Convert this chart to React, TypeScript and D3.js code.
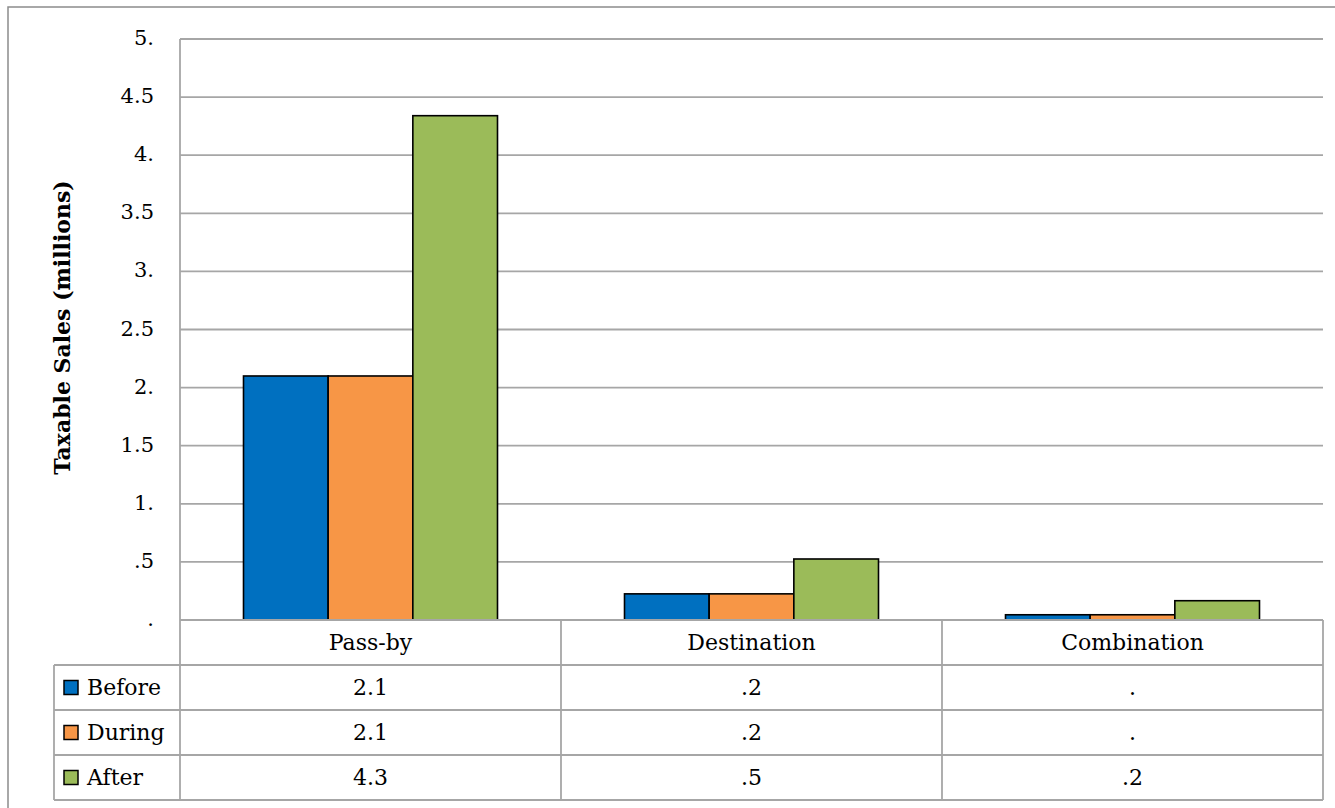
import React from "react";
import * as d3 from "d3";

const categories = ["Pass-by", "Destination", "Combination"];
const seriesNames = ["Before", "During", "After"];
const beforeValues = [2.1, 0.225, 0.045];
const duringValues = [2.1, 0.225, 0.045];
const afterValues = [4.34, 0.525, 0.166];
const seriesColors = ["#0070C0", "#F79646", "#9BBB59"];
const yTicks = [0, 0.5, 1, 1.5, 2, 2.5, 3, 3.5, 4, 4.5, 5];
const yTitle = "Taxable Sales (millions)";

const seriesValues = [beforeValues, duringValues, afterValues];

// Excel-like "#.#" format: 0 -> ".", 0.5 -> ".5", 5 -> "5."
function fmt(v: number): string {
  let s = (Math.round(v * 10) / 10).toFixed(1);
  if (s.endsWith("0")) s = s.slice(0, -1);
  if (s.startsWith("0")) s = s.slice(1);
  return s;
}

const W = 1335;
const H = 808;
const plotLeft = 180;
const plotRight = 1323;
const plotTop = 39;
const plotBottom = 620;
const rowH = 45;
const legendLeft = 54;
const FONT = "'DejaVu Serif', 'Liberation Serif', serif";
const GRID = "#a6a6a6";
const FS = 22;

export default function App() {
  const y = d3.scaleLinear().domain([0, 5]).range([plotBottom, plotTop]);
  const x = d3.scaleBand<string>().domain(categories).range([plotLeft, plotRight]).paddingInner(0).paddingOuter(0);
  const xs = d3.scaleBand<string>().domain(seriesNames).range([0, x.bandwidth()]).paddingInner(0).paddingOuter(0.75);

  const tableBottom = plotBottom + rowH * (seriesNames.length + 1);

  return (
    <svg
      width={W}
      height={H}
      style={{ position: "absolute", left: 0, top: 0, background: "#fff" }}
      fontFamily={FONT}
    >
      <rect x={8} y={7} width={W} height={H} fill="#fff" stroke="#8c8c8c" strokeWidth={1.5} />

      {/* gridlines */}
      {yTicks.map((t) => (
        <line key={"g" + t} x1={plotLeft} x2={plotRight} y1={y(t)} y2={y(t)} stroke={GRID} strokeWidth={1.8} />
      ))}

      {/* y tick labels */}
      {yTicks.map((t) => (
        <text key={"t" + t} x={154} y={y(t) - 1} textAnchor="end" dominantBaseline="central" fontSize={21} fill="#000">
          {fmt(t)}
        </text>
      ))}

      {/* y title */}
      <text
        transform={`translate(70, ${(plotTop + plotBottom) / 2 - 2}) rotate(-90)`}
        textAnchor="middle"
        fontWeight="bold"
        fontSize={22}
        fill="#000"
      >
        {yTitle}
      </text>

      {/* bars */}
      {categories.map((c, ci) =>
        seriesNames.map((s, si) => {
          const v = seriesValues[si][ci];
          const bx = (x(c) as number) + (xs(s) as number);
          return (
            <rect
              key={c + s}
              x={bx}
              y={y(v)}
              width={xs.bandwidth()}
              height={y(0) - y(v)}
              fill={seriesColors[si]}
              stroke="#000"
              strokeWidth={1.6}
            />
          );
        })
      )}

      {/* data table lines */}
      <line x1={plotLeft} x2={plotRight} y1={plotBottom} y2={plotBottom} stroke={GRID} strokeWidth={2} />
      {seriesNames.map((s, i) => (
        <line
          key={"h" + s}
          x1={legendLeft}
          x2={plotRight}
          y1={plotBottom + rowH * (i + 1)}
          y2={plotBottom + rowH * (i + 1)}
          stroke={GRID}
          strokeWidth={1.8}
        />
      ))}
      <line x1={legendLeft} x2={plotRight} y1={tableBottom} y2={tableBottom} stroke={GRID} strokeWidth={1.8} />
      <line x1={plotLeft} x2={plotLeft} y1={plotTop} y2={tableBottom} stroke={GRID} strokeWidth={1.8} />
      <line x1={legendLeft} x2={legendLeft} y1={plotBottom + rowH} y2={tableBottom} stroke={GRID} strokeWidth={1.8} />
      {categories.map((c) => (
        <line
          key={"v" + c}
          x1={(x(c) as number) + x.bandwidth()}
          x2={(x(c) as number) + x.bandwidth()}
          y1={plotBottom}
          y2={tableBottom}
          stroke={GRID}
          strokeWidth={1.8}
        />
      ))}

      {/* category labels */}
      {categories.map((c) => (
        <text
          key={"c" + c}
          x={(x(c) as number) + x.bandwidth() / 2}
          y={plotBottom + rowH / 2}
          textAnchor="middle"
          dominantBaseline="central"
          fontSize={FS}
          fill="#000"
        >
          {c}
        </text>
      ))}

      {/* legend + values */}
      {seriesNames.map((s, si) => {
        const cy = plotBottom + rowH * (si + 1) + rowH / 2;
        return (
          <g key={"r" + s}>
            <rect x={64} y={cy - 7} width={14} height={14} fill={seriesColors[si]} stroke="#000" strokeWidth={1.5} />
            <text x={87} y={cy} dominantBaseline="central" fontSize={FS} fill="#000">
              {s}
            </text>
            {categories.map((c, ci) => (
              <text
                key={c}
                x={(x(c) as number) + x.bandwidth() / 2}
                y={cy}
                textAnchor="middle"
                dominantBaseline="central"
                fontSize={FS}
                fill="#000"
              >
                {fmt(seriesValues[si][ci])}
              </text>
            ))}
          </g>
        );
      })}
    </svg>
  );
}
